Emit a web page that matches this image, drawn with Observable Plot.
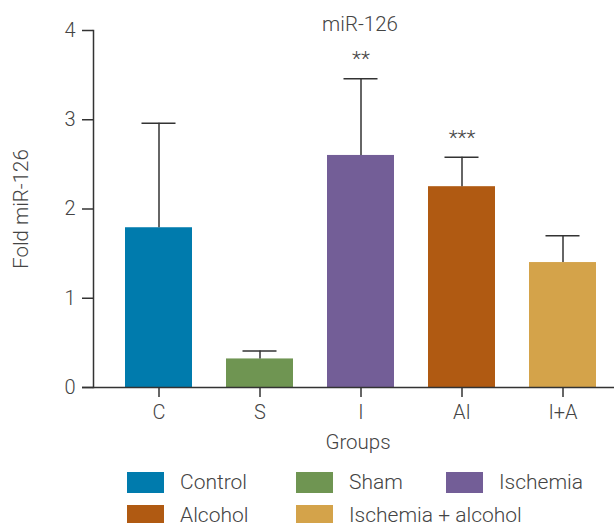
<!DOCTYPE html>
<html>
<head>
<meta charset="utf-8">
<script src="https://cdn.jsdelivr.net/npm/d3@7"></script>
<script src="https://cdn.jsdelivr.net/npm/@observablehq/plot@0.6"></script>
<style>
  body { margin: 0; background: #fff; font-family: Roboto, "Noto Sans", sans-serif; font-weight: 300; }
  #chart svg { display: block; }
  .legend { position: relative; height: 63px; color: #444; font-size: 21px; font-weight: 300; }
  .item { position: absolute; display: flex; align-items: center; height: 21px; line-height: 21px; white-space: nowrap; }
  .sw { width: 37px; height: 21px; margin-right: 16px; flex: none; }
</style>
</head>
<body>
<div id="chart"></div>
<div class="legend" id="legend"></div>
<script>
const groups = ["C", "S", "I", "AI", "I+A"];
const names = ["Control", "Sham", "Ischemia", "Alcohol", "Ischemia + alcohol"];
const values = [1.79, 0.32, 2.60, 2.25, 1.40];
const errTop = [2.96, 0.41, 3.46, 2.58, 1.70];
const stars = ["", "", "**", "***", ""];
const colors = ["#007BAD", "#6F9552", "#735E97", "#B05A12", "#D4A34A"];
const yTicks = [0, 1, 2, 3, 4];

const data = groups.map((g, i) => ({group: g, name: names[i], value: values[i], err: errTop[i], star: stars[i]}));
const ink = "#333";
const textc = "#444";
const font = "Roboto, 'Noto Sans', sans-serif";

const chart = Plot.plot({
  width: 614,
  height: 460,
  marginLeft: 93,
  marginRight: 0,
  marginTop: 30,
  marginBottom: 73,
  style: {fontFamily: font, fontSize: "20px", fontWeight: 300, color: textc, background: "#fff"},
  x: {domain: groups, range: [93, 628.5], paddingInner: 0.34, paddingOuter: 0.305},
  y: {domain: [0, 4]},
  color: {domain: groups, range: colors},
  marks: [
    Plot.barY(data, {x: "group", y: "value", fill: "group"}),
    Plot.ruleX(data, {x: "group", y1: "value", y2: "err", stroke: ink, strokeWidth: 1.5}),
    Plot.tickY(data, {x: "group", y: "err", stroke: ink, strokeWidth: 1.5, insetLeft: 16.5, insetRight: 16.5}),
    Plot.text(data, {x: "group", y: "err", text: "star", dy: -19, fill: textc, fontSize: 21, fontWeight: 300, letterSpacing: "2px"}),
    Plot.frame({anchor: "left", stroke: ink, strokeWidth: 1.5}),
    Plot.ruleY([0], {stroke: ink, strokeWidth: 1.5, insetLeft: -11}),
    Plot.axisY(yTicks, {tickSize: 11, tickPadding: 7, tickFormat: d3.format("d"), stroke: ink, strokeWidth: 1.5, fill: textc, fontSize: 20,
      label: null}),
    Plot.axisX({tickSize: 10, tickPadding: 7, stroke: ink, strokeWidth: 1.5, fill: textc, fontSize: 20,
      label: null}),
    Plot.text(["Fold miR-126"], {frameAnchor: "left", text: d => d, rotate: -90, textAnchor: "middle", lineAnchor: "middle", dx: -72, fill: textc, fontSize: 20.5, fontWeight: 300}),
    Plot.text(["Groups"], {frameAnchor: "bottom", text: d => d, lineAnchor: "middle", dy: 55, dx: 4, fill: textc, fontSize: 20.5, fontWeight: 300}),
    Plot.text(["miR-126"], {frameAnchor: "top", text: d => d, lineAnchor: "middle", dy: -6, dx: 6, fill: textc, fontSize: 20.5, fontWeight: 300})
  ]
});
document.getElementById("chart").appendChild(chart);

const pos = [[127, 12], [296, 12], [446, 12], [127, 45], [296, 45]];
const legend = document.getElementById("legend");
names.forEach((n, i) => {
  const it = document.createElement("div");
  it.className = "item";
  it.style.left = pos[i][0] + "px";
  it.style.top = pos[i][1] + "px";
  it.innerHTML = `<div class="sw" style="background:${colors[i]}"></div><span>${n}</span>`;
  legend.appendChild(it);
});
</script>
</body>
</html>
